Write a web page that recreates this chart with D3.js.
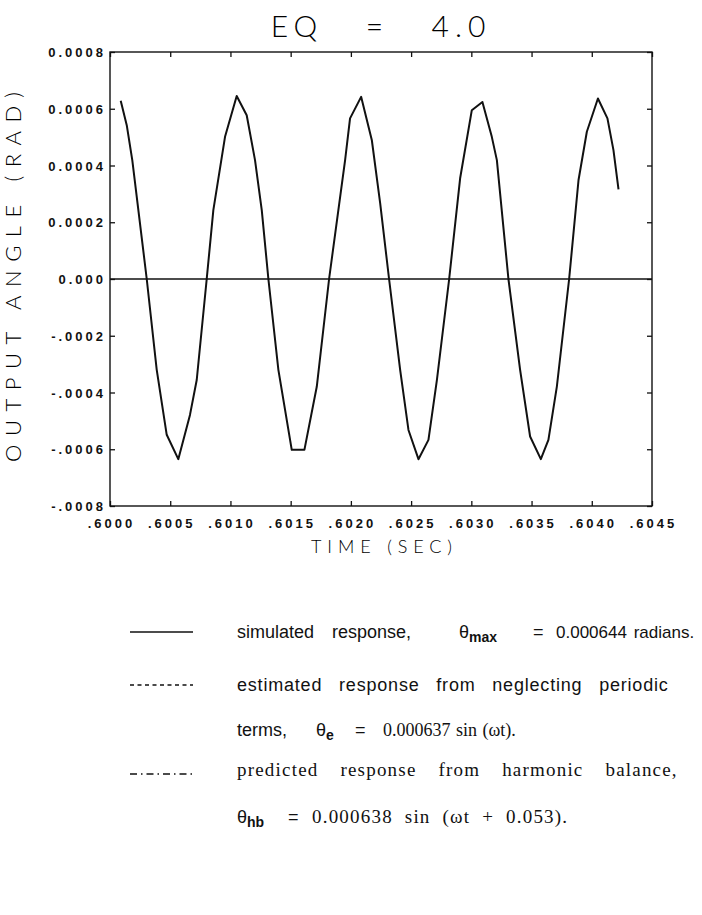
<!DOCTYPE html>
<html>
<head>
<meta charset="utf-8">
<script src="https://cdn.jsdelivr.net/npm/d3@7"></script>
<style>
  body { margin: 0; background: #fff; }
  text { white-space: pre; }
  .tick-label { font-family: "Liberation Sans", Arial, sans-serif; font-weight: bold; font-size: 13px; letter-spacing: 3px; }
  .plotter { font-family: Lato, "DejaVu Sans", sans-serif; font-weight: 300; }
  .legend { font-family: "Liberation Sans", Arial, sans-serif; font-size: 18px; }
  .legend-serif { font-family: "Liberation Serif", "Times New Roman", serif; font-size: 19px; }
  .sub { font-family: "Liberation Sans", Arial, sans-serif; font-size: 14px; font-weight: bold; }
</style>
</head>
<body>
<div id="chart"></div>
<script>
// simulated response (time in s, angle in rad)
const time = [
  0.600089, 0.600139, 0.600185, 0.600305, 0.600388, 0.600471, 0.600567, 0.600664, 0.600720, 0.600803,
  0.600858, 0.600955, 0.601052, 0.601135, 0.601204, 0.601260, 0.601315, 0.601398, 0.601509, 0.601614,
  0.601717, 0.601819, 0.601896, 0.601952, 0.601993, 0.602085, 0.602174, 0.602243, 0.602317, 0.602409,
  0.602478, 0.602561, 0.602644, 0.602714, 0.602816, 0.602907, 0.603004, 0.603092, 0.603170, 0.603212,
  0.603308, 0.603405, 0.603488, 0.603577, 0.603640, 0.603710, 0.603812, 0.603890, 0.603959, 0.604051,
  0.604130, 0.604180, 0.604222
]
const angle = [
  0.000628, 0.000542, 0.000419, 0.000000, -0.000320, -0.000549, -0.000635, -0.000479, -0.000356, 0.000000,
  0.000243, 0.000501, 0.000645, 0.000577, 0.000419, 0.000243, 0.000000, -0.000320, -0.000602, -0.000602,
  -0.000379, 0.000000, 0.000243, 0.000419, 0.000566, 0.000642, 0.000489, 0.000267, 0.000000, -0.000320,
  -0.000532, -0.000635, -0.000567, -0.000356, 0.000000, 0.000355, 0.000595, 0.000624, 0.000501, 0.000419,
  0.000000, -0.000320, -0.000555, -0.000635, -0.000567, -0.000379, 0.000000, 0.000349, 0.000519, 0.000636,
  0.000566, 0.000454, 0.000316
]

const xTicks = [0.6000, 0.6005, 0.6010, 0.6015, 0.6020, 0.6025, 0.6030, 0.6035, 0.6040, 0.6045]
const xTickLabels = ['.6000', '.6005', '.6010', '.6015', '.6020', '.6025', '.6030', '.6035', '.6040', '.6045']
const yTicks = [0.0008, 0.0006, 0.0004, 0.0002, 0, -0.0002, -0.0004, -0.0006, -0.0008]
const yTickLabels = ['0.0008', '0.0006', '0.0004', '0.0002', '0.000', '-.0002', '-.0004', '-.0006', '-.0008']

const width = 702
const height = 915
const plot = {left: 110, right: 652, top: 52, bottom: 506}

const svg = d3.select('#chart').append('svg')
  .attr('width', width)
  .attr('height', height)

const x = d3.scaleLinear().domain([0.6, 0.6045]).range([plot.left, plot.right])
const y = d3.scaleLinear().domain([-0.0008, 0.0008]).range([plot.bottom, plot.top])

// frame
svg.append('rect')
  .attr('x', plot.left).attr('y', plot.top)
  .attr('width', plot.right - plot.left).attr('height', plot.bottom - plot.top)
  .attr('fill', 'none').attr('stroke', '#111').attr('stroke-width', 1.4)

// inward ticks on all four sides
const tickFmt = (arr, lab) => d => lab[arr.indexOf(d)]
svg.append('g')
  .attr('transform', `translate(0,${plot.bottom})`)
  .call(d3.axisTop(x).tickValues(xTicks).tickSize(5).tickFormat(''))
  .call(g => g.select('.domain').remove())
svg.append('g')
  .attr('transform', `translate(0,${plot.top})`)
  .call(d3.axisBottom(x).tickValues(xTicks).tickSize(5).tickFormat(''))
  .call(g => g.select('.domain').remove())
svg.append('g')
  .attr('transform', `translate(${plot.left},0)`)
  .call(d3.axisRight(y).tickValues(yTicks).tickSize(5).tickFormat(''))
  .call(g => g.select('.domain').remove())
svg.append('g')
  .attr('transform', `translate(${plot.right},0)`)
  .call(d3.axisLeft(y).tickValues(yTicks).tickSize(5).tickFormat(''))
  .call(g => g.select('.domain').remove())
svg.selectAll('.tick line').attr('stroke', '#111').attr('stroke-width', 1.3)

// tick labels
svg.append('g').selectAll('text')
  .data(xTicks)
  .join('text')
  .attr('class', 'tick-label')
  .attr('x', d => x(d) + 1.5)
  .attr('y', 528)
  .attr('text-anchor', 'middle')
  .attr('fill', '#111')
  .text(tickFmt(xTicks, xTickLabels))

svg.append('g').selectAll('text')
  .data(yTicks)
  .join('text')
  .attr('class', 'tick-label')
  .attr('x', plot.left - 4)
  .attr('y', d => y(d) + 5)
  .attr('text-anchor', 'end')
  .attr('fill', '#111')
  .text(tickFmt(yTicks, yTickLabels))

// zero line
svg.append('line')
  .attr('x1', x(0.6)).attr('x2', x(0.6045))
  .attr('y1', y(0)).attr('y2', y(0))
  .attr('stroke', '#111').attr('stroke-width', 1.3)

// response curve
const line = d3.line()
  .x((d, i) => x(time[i]))
  .y(d => y(d))
svg.append('path')
  .attr('d', line(angle))
  .attr('fill', 'none')
  .attr('stroke', '#111')
  .attr('stroke-width', 2)
  .attr('stroke-linejoin', 'round')

// titles
svg.append('text')
  .attr('class', 'plotter')
  .attr('x', 381).attr('y', 37)
  .attr('text-anchor', 'middle')
  .attr('font-size', 30)
  .attr('letter-spacing', 6)
  .text('EQ   =   4.0')

svg.append('text')
  .attr('class', 'plotter')
  .attr('x', 311).attr('y', 553)
  .attr('font-size', 18)
  .attr('textLength', 141).attr('lengthAdjust', 'spacing')
  .text('TIME (SEC)')

svg.append('text')
  .attr('class', 'plotter')
  .attr('transform', 'translate(21,462) rotate(-90)')
  .attr('font-size', 22)
  .attr('textLength', 370).attr('lengthAdjust', 'spacing')
  .text('OUTPUT ANGLE (RAD)')

// legend
const lg = svg.append('g').attr('fill', '#111')
lg.append('line').attr('x1', 130).attr('x2', 193).attr('y1', 632).attr('y2', 632)
  .attr('stroke', '#111').attr('stroke-width', 1.4)
lg.append('line').attr('x1', 130).attr('x2', 193).attr('y1', 685).attr('y2', 685)
  .attr('stroke', '#111').attr('stroke-width', 1.3).attr('stroke-dasharray', '4,3.5')
lg.append('line').attr('x1', 130).attr('x2', 193).attr('y1', 774).attr('y2', 774)
  .attr('stroke', '#111').attr('stroke-width', 1.4).attr('stroke-dasharray', '7,4,1.5,4')

function legendText(cls, xPos, yPos, str, ls, ws) {
  return lg.append('text').attr('class', cls).attr('x', xPos).attr('y', yPos)
    .attr('letter-spacing', ls || 0).attr('word-spacing', ws || 0)
    .text(str)
}
function theta(xPos, yPos, sub) {
  const t = lg.append('text').attr('class', 'legend').attr('x', xPos).attr('y', yPos)
  t.append('tspan').text('θ')
  t.append('tspan').attr('class', 'sub').attr('dy', 4).text(sub)
}

legendText('legend', 237, 638, 'simulated response,', 0, 13)
theta(459, 638, 'max')
legendText('legend', 533, 638, '=')
legendText('legend', 556, 638, '0.000644 radians.', 0, 2).style('font-size', '17px')

legendText('legend', 237, 691, 'estimated response from neglecting periodic', 0.8, 11)
legendText('legend', 237, 736, 'terms,')
theta(316, 736, 'e')
legendText('legend', 355, 736, '=')
legendText('legend-serif', 383, 736, '0.000637 sin (ωt).', 0, 1).style('font-size', '18px')

legendText('legend-serif', 237, 776, 'predicted response from harmonic balance,', 1.2, 16)
theta(237, 823, 'hb')
legendText('legend', 288, 823, '=')
legendText('legend-serif', 312, 823, '0.000638 sin (ωt + 0.053).', 1.2, 6)
</script>
</body>
</html>
